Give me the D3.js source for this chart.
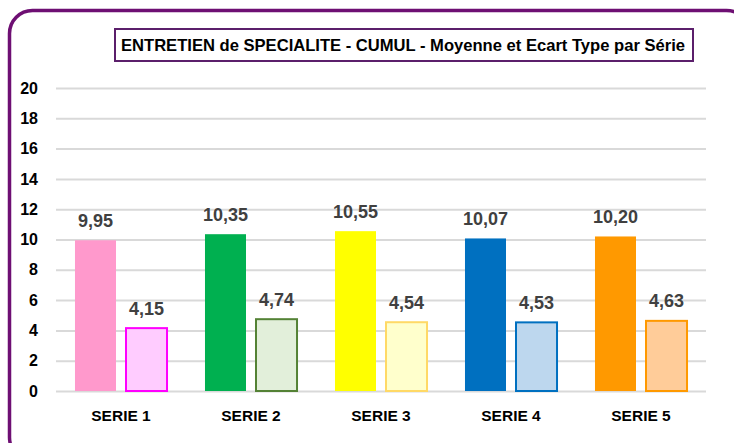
<!DOCTYPE html>
<html lang="fr">
<head>
  <meta charset="UTF-8">
  <title>ENTRETIEN de SPECIALITE - CUMUL</title>
  <script src="https://d3js.org/d3.v7.min.js"></script>
  <style>
    html, body { margin: 0; padding: 0; background: #fff; }
    svg { display: block; font-family: "Liberation Sans", Arial, sans-serif; }
  </style>
</head>
<body>
<svg id="chart" width="734" height="443"></svg>
<script>
  // Données
  const series = ["SERIE 1", "SERIE 2", "SERIE 3", "SERIE 4", "SERIE 5"];
  const moyenne = [9.95, 10.35, 10.55, 10.07, 10.20];
  const ecartType = [4.15, 4.74, 4.54, 4.53, 4.63];
  const yTicks = [0, 2, 4, 6, 8, 10, 12, 14, 16, 18, 20];

  // Couleurs par série : moyenne (plein) et écart type (clair + contour)
  const fillMoy = ["#FF99CC", "#00B050", "#FFFF00", "#0070C0", "#FF9900"];
  const fillEct = ["#FFCCFF", "#E2EFDA", "#FFFFCC", "#BDD7EE", "#FFCC99"];
  const strokeEct = ["#FF00FF", "#548235", "#FFD966", "#0070C0", "#FF9900"];

  const svg = d3.select("#chart");
  const fmt = v => d3.format(".2f")(v).replace(".", ",");

  // Cadre violet arrondi
  svg.append("rect")
    .attr("x", 9.5).attr("y", 10.5)
    .attr("width", 740).attr("height", 450)
    .attr("rx", 23)
    .attr("fill", "none")
    .attr("stroke", "#6E0F73")
    .attr("stroke-width", 3.5);

  const plot = { left: 56, right: 706, top: 88, bottom: 391 };

  const x0 = d3.scaleBand().domain(series).range([plot.left, plot.right]);
  const x1 = d3.scaleBand().domain(["moy", "ect"])
    .range([0, x0.bandwidth()])
    .paddingInner(0.196)
    .paddingOuter(0.372);
  const y = d3.scaleLinear().domain([0, 20]).range([plot.bottom, plot.top]);

  // Grille
  const yAxis = svg.append("g")
    .attr("transform", `translate(${plot.left},0)`)
    .call(d3.axisLeft(y).tickValues(yTicks).tickSize(-(plot.right - plot.left)).tickFormat(d3.format("d")));
  yAxis.select(".domain").remove();
  yAxis.selectAll(".tick line")
    .attr("stroke", "#D9D9D9")
    .attr("stroke-width", 2);
  yAxis.selectAll(".tick text")
    .attr("x", -18)
    .attr("fill", "#000")
    .style("font-size", "16px")
    .style("font-weight", "bold");

  // Barres
  const groups = svg.append("g").selectAll("g")
    .data(series)
    .join("g")
    .attr("transform", d => `translate(${x0(d)},0)`);

  groups.append("rect")
    .attr("x", x1("moy"))
    .attr("width", x1.bandwidth())
    .attr("y", (d, i) => y(moyenne[i]))
    .attr("height", (d, i) => y(0) - y(moyenne[i]))
    .attr("fill", (d, i) => fillMoy[i]);

  groups.append("rect")
    .attr("x", x1("ect"))
    .attr("width", x1.bandwidth())
    .attr("y", (d, i) => y(ecartType[i]))
    .attr("height", (d, i) => y(0) - y(ecartType[i]))
    .attr("fill", (d, i) => fillEct[i])
    .attr("stroke", (d, i) => strokeEct[i])
    .attr("stroke-width", 2);

  // Étiquettes de valeurs
  groups.append("text")
    .attr("x", x1("moy") + x1.bandwidth() / 2)
    .attr("y", (d, i) => y(moyenne[i]) - 13.5)
    .attr("text-anchor", "middle")
    .attr("fill", "#404040")
    .style("font-size", "18px")
    .style("font-weight", "bold")
    .text((d, i) => fmt(moyenne[i]));

  groups.append("text")
    .attr("x", x1("ect") + x1.bandwidth() / 2)
    .attr("y", (d, i) => y(ecartType[i]) - 13.5)
    .attr("text-anchor", "middle")
    .attr("fill", "#404040")
    .style("font-size", "18px")
    .style("font-weight", "bold")
    .text((d, i) => fmt(ecartType[i]));

  // Axe des catégories
  const xAxis = svg.append("g")
    .attr("transform", `translate(0,${plot.bottom})`)
    .call(d3.axisBottom(x0).tickSize(0).tickPadding(19));
  xAxis.select(".domain").remove();
  xAxis.selectAll(".tick text")
    .attr("fill", "#000")
    .style("font-size", "15.5px")
    .style("font-weight", "bold");

  // Titre encadré
  svg.append("rect")
    .attr("x", 115).attr("y", 29)
    .attr("width", 578).attr("height", 32)
    .attr("fill", "#fff")
    .attr("stroke", "#5B1F6B")
    .attr("stroke-width", 2);
  svg.append("text")
    .attr("x", 121).attr("y", 51)
    .attr("textLength", 564)
    .attr("lengthAdjust", "spacingAndGlyphs")
    .attr("fill", "#000")
    .style("font-size", "16.5px")
    .style("font-weight", "bold")
    .text("ENTRETIEN de SPECIALITE  - CUMUL - Moyenne et Ecart Type par Série");
</script>
</body>
</html>
